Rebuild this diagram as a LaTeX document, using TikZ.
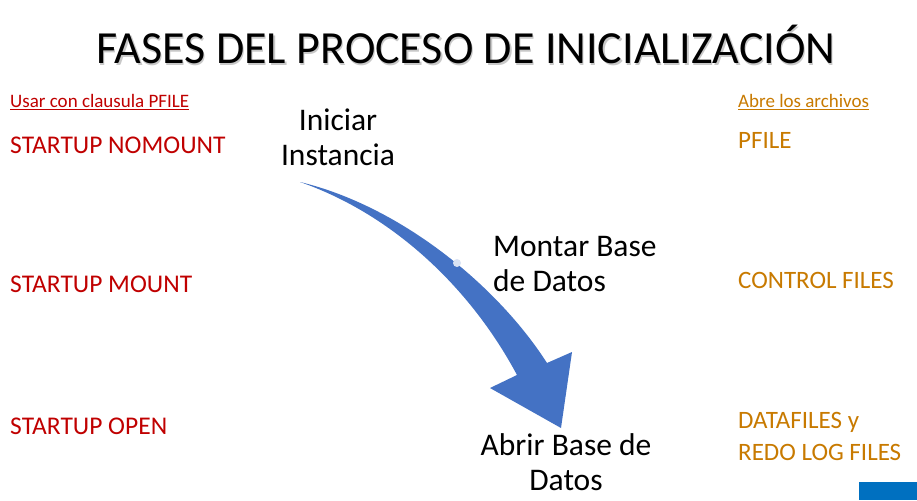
\documentclass[tikz,border=0pt]{standalone}
\usepackage{fontspec}
\setmainfont{Carlito}
\definecolor{darkred}{HTML}{C00000}
\definecolor{ochre}{HTML}{C87A00}
\definecolor{arrowblue}{HTML}{4472C4}
\definecolor{logoblue}{HTML}{0070C0}
\definecolor{shadowgrey}{HTML}{C8C8C8}
\tikzset{
  phase/.style={text=darkred, anchor=base west, inner sep=0pt, font=\fontsize{25.5}{31}\selectfont},
  filetext/.style={text=ochre, anchor=base west, inner sep=0pt, align=left, font=\fontsize{25}{32}\selectfont},
  step label/.style={text=black, inner sep=0pt, font=\fontsize{31.5}{35}\selectfont},
  heading/.style={anchor=base west, inner sep=0pt, font=\fontsize{19}{22}\selectfont}
}

\begin{document}
\begin{tikzpicture}[x=1pt, y=-1pt]

  \useasboundingbox[fill=white] (0, 0) rectangle (917, 500);

  % TITLE
  \node[text=shadowgrey, anchor=base, inner sep=0pt, font=\fontsize{46}{55}\selectfont]
    (titleshadow) at (467.2, 65.2) {FASES DEL PROCESO DE INICIALIZACIÓN};
  \node[anchor=base, inner sep=0pt, font=\fontsize{46}{55}\selectfont]
    (title) at (466, 64) {FASES DEL PROCESO DE INICIALIZACIÓN};

  % LEFT COLUMN
  \node[heading, text=darkred] (usar) at (10, 108) {\underline{Usar con clausula PFILE}};
  \node[phase] (nomount) at (10, 153) {STARTUP NOMOUNT};
  \node[phase] (mount) at (10, 292) {STARTUP MOUNT};
  \node[phase] (open) at (10, 434) {STARTUP OPEN};

  % RIGHT COLUMN
  \node[heading, text=ochre] (abre) at (738, 108) {\underline{Abre los archivos}};
  \node[filetext] (pfile) at (738, 148) {PFILE};
  \node[filetext] (control) at (738, 288) {CONTROL FILES};
  \node[filetext] (datafiles) at (738, 460) {DATAFILES y\\REDO LOG FILES};

  % ARROW
  \fill[arrowblue] (300, 182) .. controls (400, 206) and (497, 285) .. (547, 363)
    -- (572, 352) -- (561, 428) -- (490, 388) -- (517, 375)
    .. controls (470, 287) and (392, 214) .. (300, 182) -- cycle;
  \fill[white!80!arrowblue] (457, 263) circle (4);

  % STEPS
  \node[step label, align=center, anchor=base] (iniciar) at (338, 165) {Iniciar\\Instancia};
  \node[step label, align=left, anchor=base west] (montar) at (493, 291) {Montar Base\\de Datos};
  \node[step label, align=center, anchor=base] (abrir) at (566, 490) {Abrir Base de\\Datos};

  % LOGO
  \fill[logoblue] (859, 482) rectangle (917, 500);

\end{tikzpicture}
\end{document}
